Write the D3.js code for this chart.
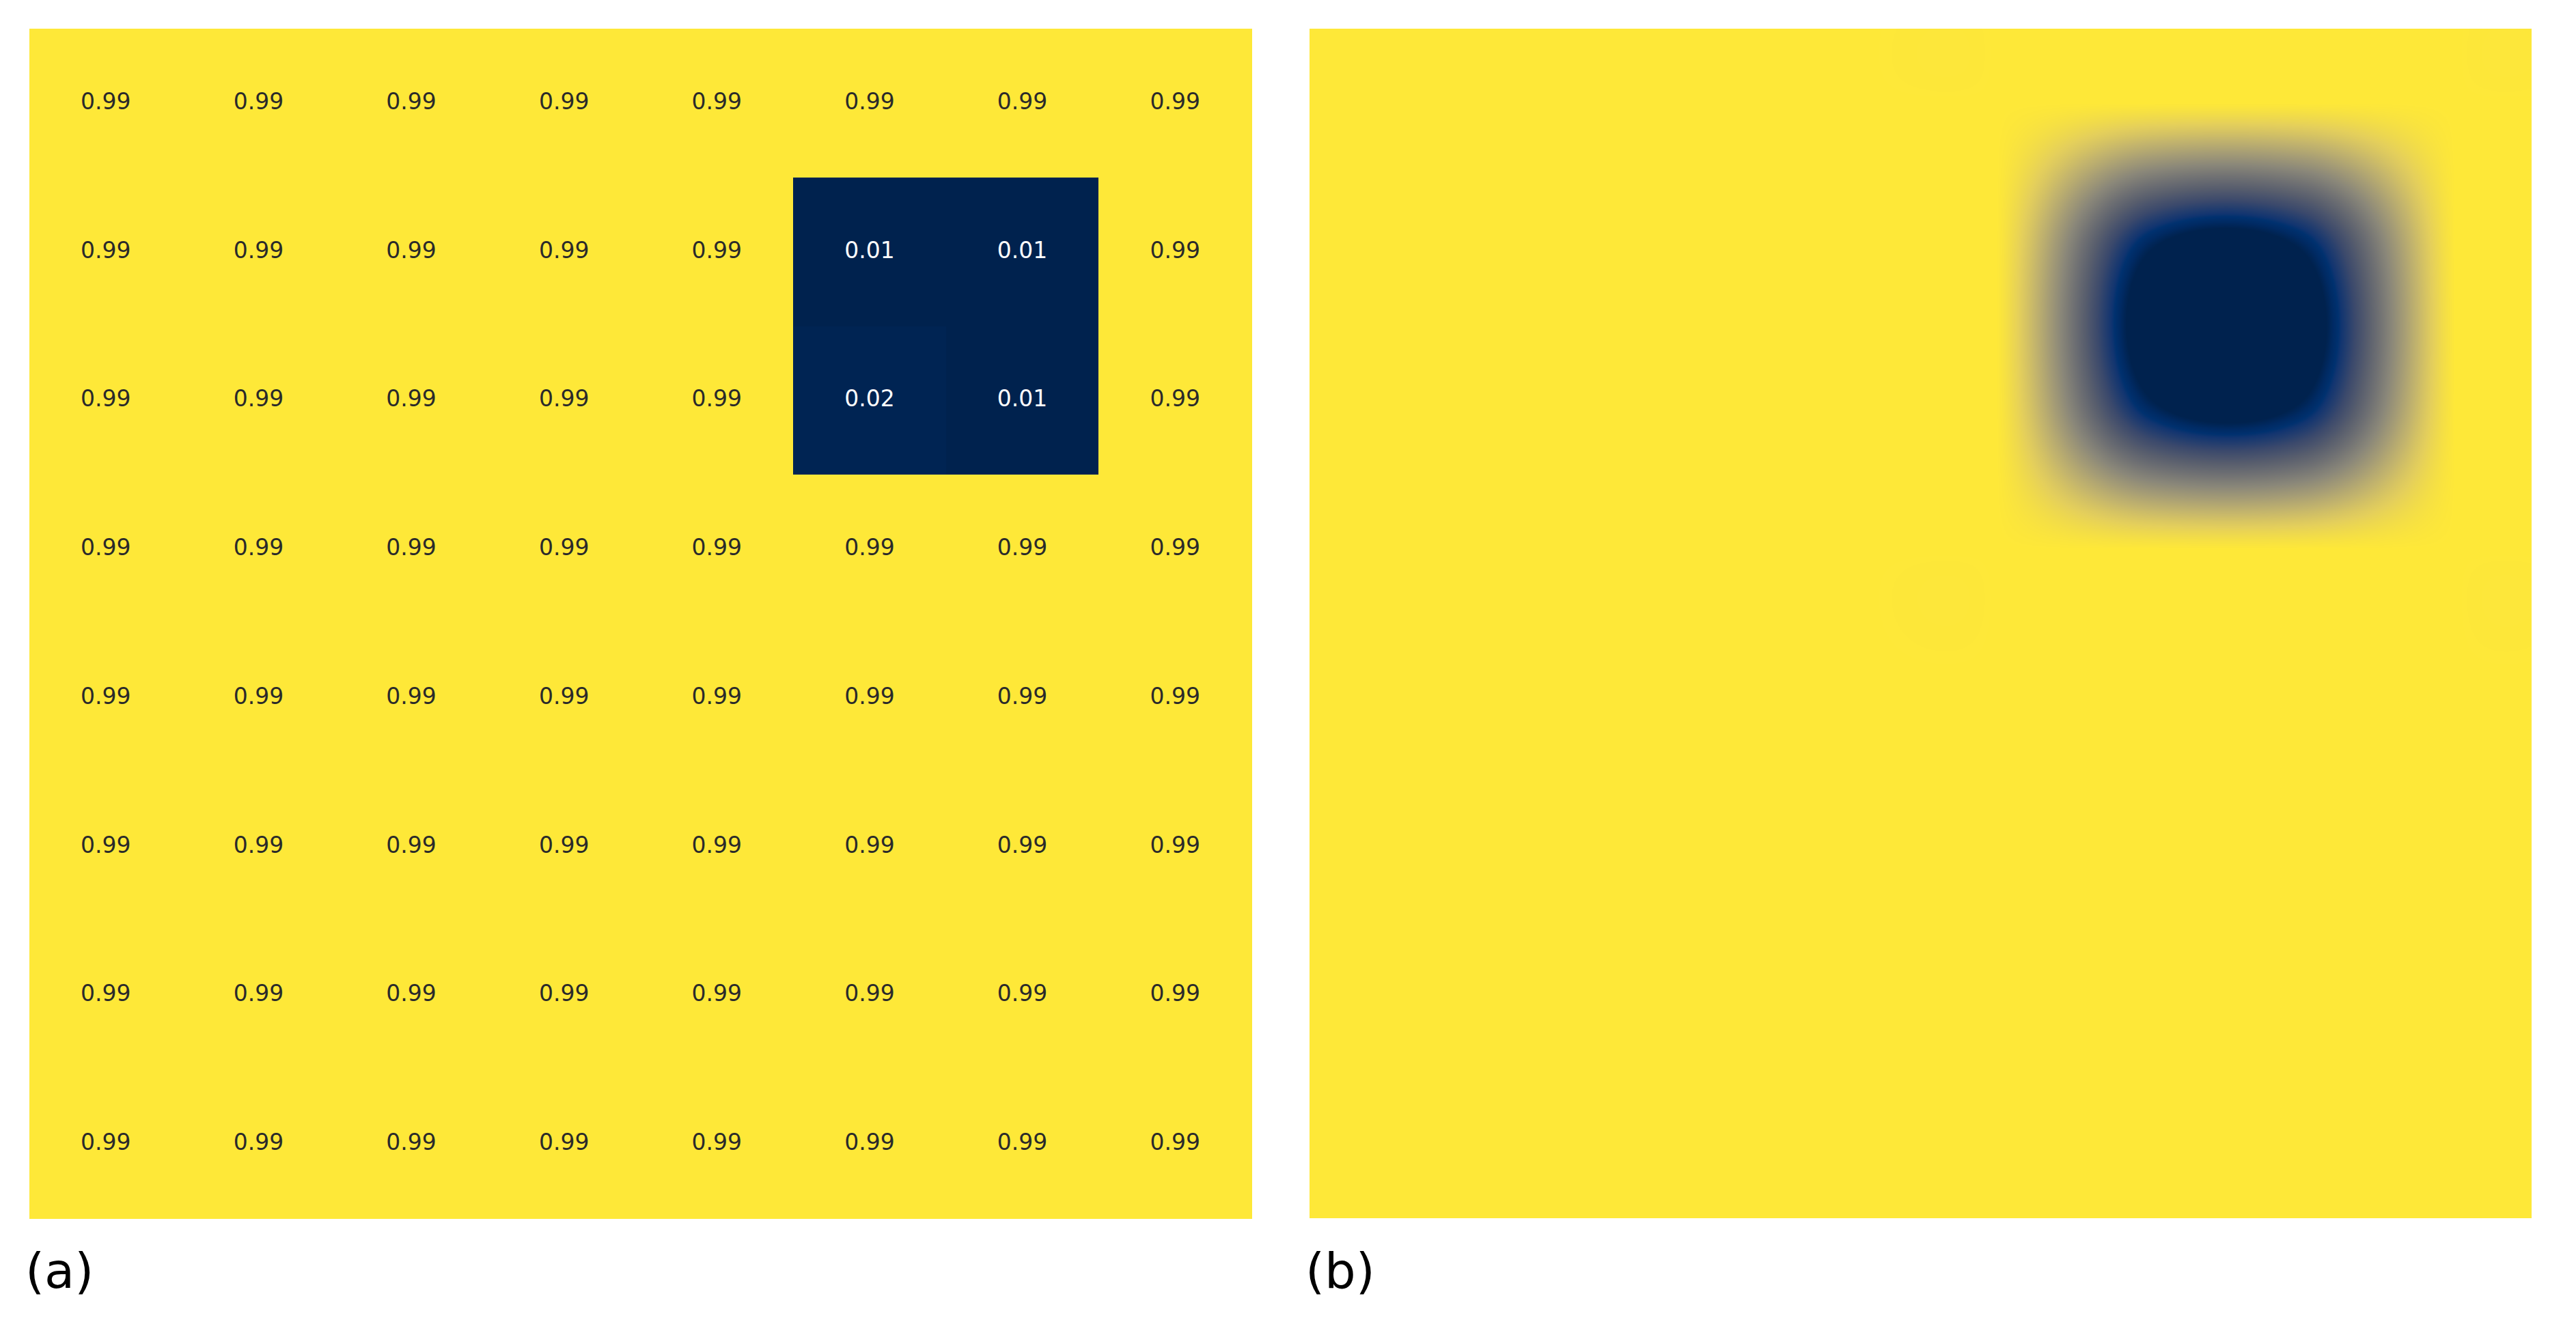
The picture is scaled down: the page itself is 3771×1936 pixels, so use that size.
<!DOCTYPE html>
<html>
<head>
<meta charset="utf-8">
<script src="https://cdn.jsdelivr.net/npm/d3@7"></script>
<style>
  body { margin: 0; background: #fff; }
  svg { display: block; }
</style>
</head>
<body>
<svg id="chart"></svg>
<script>
var width = 3771;
var height = 1936;

// grid values, row 0 at the top
var gridValues = [
  [0.99, 0.99, 0.99, 0.99, 0.99, 0.99, 0.99, 0.99],
  [0.99, 0.99, 0.99, 0.99, 0.99, 0.01, 0.01, 0.99],
  [0.99, 0.99, 0.99, 0.99, 0.99, 0.02, 0.01, 0.99],
  [0.99, 0.99, 0.99, 0.99, 0.99, 0.99, 0.99, 0.99],
  [0.99, 0.99, 0.99, 0.99, 0.99, 0.99, 0.99, 0.99],
  [0.99, 0.99, 0.99, 0.99, 0.99, 0.99, 0.99, 0.99],
  [0.99, 0.99, 0.99, 0.99, 0.99, 0.99, 0.99, 0.99],
  [0.99, 0.99, 0.99, 0.99, 0.99, 0.99, 0.99, 0.99]
];
var rowIds = [0, 1, 2, 3, 4, 5, 6, 7];
var colIds = [0, 1, 2, 3, 4, 5, 6, 7];
var panelLabels = ["(a)", "(b)"];

// cividis
var cividisPos = [0, 0.045, 0.085, 0.111, 0.222, 0.333, 0.444, 0.556, 0.667, 0.778, 0.889, 1];
var cividisColors = ["#00224e", "#002a63", "#00316f", "#123570", "#3b496c", "#575d6d",
                     "#707173", "#8a8779", "#a69d75", "#c4b56c", "#e4cf5b", "#fee838"];

var panelW = 1789;
var panelH = 1742;
var panelTop = 42;
var panelLeft = [43, 1917];

var svg = d3.select("#chart")
    .attr("width", width)
    .attr("height", height);

svg.append("rect").attr("width", width).attr("height", height).attr("fill", "#ffffff");

var allValues = d3.merge(gridValues);
var vmin = d3.min(allValues), vmax = d3.max(allValues);

var color = d3.scaleLinear()
    .domain(cividisPos.map(function(p) { return vmin + p * (vmax - vmin); }))
    .range(cividisColors)
    .interpolate(d3.interpolateRgb)
    .clamp(true);

// ---- panel (a): the grid ----
var xA = d3.scaleBand().domain(colIds).range([panelLeft[0], panelLeft[0] + panelW]);
var yA = d3.scaleBand().domain(rowIds).range([panelTop, panelTop + panelH]);

var cells = [];
rowIds.forEach(function(r) {
  colIds.forEach(function(c) {
    cells.push({ row: r, col: c, value: gridValues[r][c] });
  });
});

var gA = svg.append("g");
gA.selectAll("rect.cell")
  .data(cells)
  .enter().append("rect")
    .attr("class", "cell")
    .attr("x", function(d) { return xA(d.col); })
    .attr("y", function(d) { return yA(d.row); })
    .attr("width", xA.bandwidth() + 0.5)
    .attr("height", yA.bandwidth() + 0.5)
    .attr("fill", function(d) { return color(d.value); })
    .attr("shape-rendering", "crispEdges");

gA.selectAll("text.val")
  .data(cells)
  .enter().append("text")
    .attr("class", "val")
    .attr("x", function(d) { return xA(d.col) + xA.bandwidth() / 2; })
    .attr("y", function(d) { return yA(d.row) + yA.bandwidth() / 2; })
    .attr("dy", "0.27em")
    .attr("text-anchor", "middle")
    .style("font-family", "'DejaVu Sans', Verdana, sans-serif")
    .style("font-size", "33px")
    .style("fill", function(d) { return d.value < (vmin + vmax) / 2 ? "#ffffff" : "#2a2a2a"; })
    .text(function(d) { return d.value.toFixed(2); });

// ---- panel (b): bicubic (catmull-rom) resample of the same grid ----
var uX = d3.scaleLinear().domain([0, panelW]).range([-0.5, colIds.length - 0.5]);
var uY = d3.scaleLinear().domain([0, panelH]).range([-0.5, rowIds.length - 0.5]);

function taps(u, n) {
  var i = Math.floor(u), t = u - i;
  var t2 = t * t, t3 = t2 * t;
  var w = [(-t3 + 2 * t2 - t) / 2, (3 * t3 - 5 * t2 + 2) / 2, (-3 * t3 + 4 * t2 + t) / 2, (t3 - t2) / 2];
  var idx = [i - 1, i, i + 1, i + 2].map(function(k) { return Math.max(0, Math.min(n - 1, k)); });
  return { idx: idx, w: w };
}

var lutN = 1024;
var lut = d3.range(lutN).map(function(k) {
  return d3.rgb(color(vmin + (vmax - vmin) * k / (lutN - 1)));
});

var canvas = document.createElement("canvas");
canvas.width = panelW;
canvas.height = panelH;
var ctx = canvas.getContext("2d");
var img = ctx.createImageData(panelW, panelH);

var colTaps = d3.range(panelW).map(function(px) { return taps(uX(px + 0.5), colIds.length); });

for (var py = 0; py < panelH; py++) {
  var rt = taps(uY(py + 0.5), rowIds.length);
  for (var px = 0; px < panelW; px++) {
    var ct = colTaps[px];
    var v = 0;
    for (var j = 0; j < 4; j++) {
      var row = gridValues[rt.idx[j]];
      var s = row[ct.idx[0]] * ct.w[0] + row[ct.idx[1]] * ct.w[1] + row[ct.idx[2]] * ct.w[2] + row[ct.idx[3]] * ct.w[3];
      v += s * rt.w[j];
    }
    var k = Math.round((v - vmin) / (vmax - vmin) * (lutN - 1));
    k = Math.max(0, Math.min(lutN - 1, k));
    var c = lut[k];
    var o = (py * panelW + px) * 4;
    img.data[o] = c.r; img.data[o + 1] = c.g; img.data[o + 2] = c.b; img.data[o + 3] = 255;
  }
}
ctx.putImageData(img, 0, 0);

svg.append("image")
    .attr("x", panelLeft[1])
    .attr("y", panelTop)
    .attr("width", panelW)
    .attr("height", panelH)
    .attr("preserveAspectRatio", "none")
    .attr("href", canvas.toDataURL("image/png"));

// ---- panel labels ----
svg.selectAll("text.panel-label")
  .data(panelLabels)
  .enter().append("text")
    .attr("class", "panel-label")
    .attr("x", function(d, i) { return panelLeft[i] - 6; })
    .attr("y", 1886)
    .style("font-family", "'DejaVu Sans', Verdana, sans-serif")
    .style("font-size", "72px")
    .style("fill", "#000000")
    .text(function(d) { return d; });
</script>
</body>
</html>
